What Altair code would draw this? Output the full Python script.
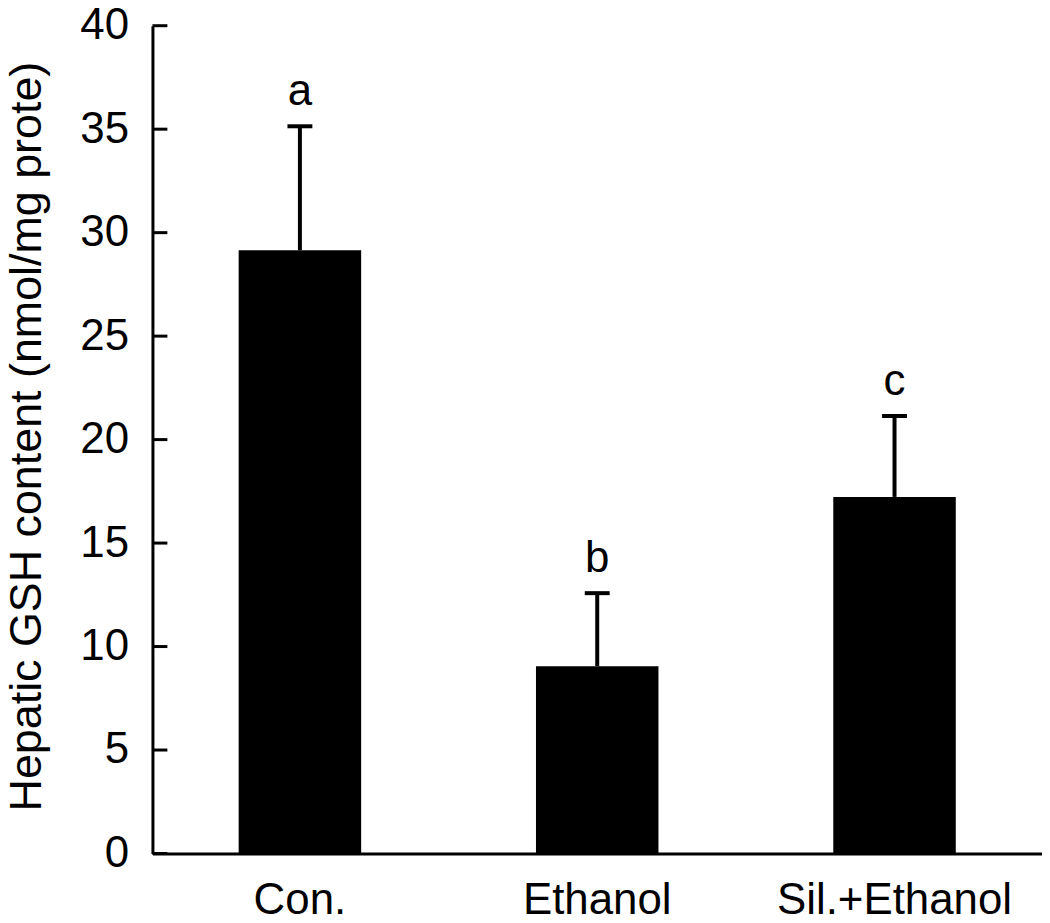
import altair as alt
import pandas as pd

groups = ["Con.", "Ethanol", "Sil.+Ethanol"]
means = [29.15, 9.05, 17.23]
upper = [35.14, 12.58, 21.14]
letters = ["a", "b", "c"]
yticks = [0, 5, 10, 15, 20, 25, 30, 35, 40]

df = pd.DataFrame({"group": groups, "mean": means, "upper": upper, "letter": letters})
tdf = pd.DataFrame({"t": yticks})

FONT = "Liberation Sans"

xenc = alt.X("group:N", sort=groups,
             scale=alt.Scale(paddingInner=0.588, paddingOuter=0.29),
             axis=alt.Axis(title=None, ticks=False, labelAngle=0, labelFontSize=44,
                           labelFont=FONT, labelColor="black", labelPadding=25,
                           labelLimit=0, domainColor="black", domainWidth=3))
yscale = alt.Scale(domain=[0, 40], nice=False, zero=True)
yenc = alt.Y("mean:Q", scale=yscale,
             axis=alt.Axis(title="Hepatic GSH content (nmol/mg prote)", values=yticks,
                           ticks=False, grid=False, labelFontSize=44, labelFont=FONT,
                           labelColor="black", labelPadding=24, domainColor="black",
                           domainWidth=3, titleFont=FONT, titleFontSize=45,
                           titleFontWeight="normal", titleColor="black",
                           titleX=-112, titleY=412, titleBaseline="alphabetic",
                           titleAngle=270, titleAlign="center", titleLimit=0))

base = alt.Chart(df)
bars = base.mark_bar(color="black").encode(x=xenc, y=yenc)
stems = base.mark_rule(color="black", strokeWidth=4).encode(
    x=alt.X("group:N", sort=groups), y=alt.Y("mean:Q", scale=yscale), y2="upper:Q")
caps = base.mark_tick(color="black", opacity=1, size=25, thickness=4,
                      orient="horizontal").encode(
    x=alt.X("group:N", sort=groups), y=alt.Y("upper:Q", scale=yscale))
texts = base.mark_text(font=FONT, fontSize=44, color="black", baseline="alphabetic",
                       dy=-21).encode(
    x=alt.X("group:N", sort=groups), y=alt.Y("upper:Q", scale=yscale), text="letter:N")
tickmarks = alt.Chart(tdf).mark_rule(color="black", strokeWidth=3).encode(
    x=alt.value(0), x2=alt.value(15), y=alt.Y("t:Q", scale=yscale))

chart = alt.layer(bars, stems, caps, texts, tickmarks).properties(
    width=893, height=831,
    autosize=alt.AutoSizeParams(type="none"),
    padding={"left": 145, "top": 16, "right": 0, "bottom": 67},
    background="white",
).configure_view(stroke=None)

chart.save("out.html", embed_options={"renderer": "svg", "actions": False})
